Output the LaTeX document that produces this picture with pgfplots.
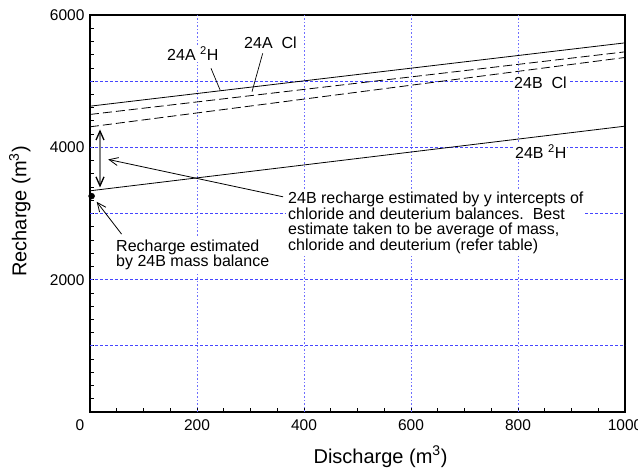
\documentclass[border=0pt]{standalone}
\usepackage{fontspec}
\setmainfont{Liberation Sans}
\usepackage{pgfplots}
\pgfplotsset{compat=1.18}
\usetikzlibrary{arrows.meta}
\definecolor{gridblue}{RGB}{70,70,255}
\definecolor{gridblueV}{RGB}{110,110,255}
\newcommand{\annfont}{\fontsize{16bp}{15.7bp}\selectfont}
\tikzset{hgrid/.style={color=gridblue, line width=1.1bp, dash pattern=on 3bp off 2bp},
         vgrid/.style={color=gridblueV, line width=1bp, dash pattern=on 1.6bp off 2bp}}
\begin{document}
\begin{tikzpicture}
\begin{axis}[
  at={(0,0)}, anchor=south west,
  scale only axis, width=535bp, height=397bp,
  xmin=0, xmax=1000, ymin=0, ymax=6000,
  clip=false,
  axis line style={line width=1.2bp},
  tick align=inside, tick pos=left,
  major tick length=4bp, minor tick length=4bp,
  tick style={line width=0.8bp, black},
  xtick={0,200,400,600,800,1000},
  xticklabels={{\makebox[0pt]{\hspace*{-20bp}0}},200,400,600,800,1000},
  minor x tick num=3,
  ytick={0,2000,4000,6000},
  yticklabels={,2000,4000,6000},
  minor y tick num=9,
  xticklabel style={font=\fontsize{15.5bp}{18bp}\selectfont, yshift=-4bp},
  yticklabel style={font=\fontsize{15.5bp}{18bp}\selectfont, xshift=-2bp},
  xlabel={Discharge (m\textsuperscript{3})},
  xlabel style={at={(axis description cs:0.543,0)}, anchor=base, yshift=-51bp, font=\fontsize{20bp}{24bp}\selectfont},
  ylabel={Recharge (m\textsuperscript{3})},
  ylabel style={at={(axis description cs:-0.1187,0.505)}, anchor=base, font=\fontsize{20bp}{24bp}\selectfont},
]
% grid lines
\addplot[hgrid] coordinates {(0,1000) (1000,1000)};
\addplot[hgrid] coordinates {(0,2000) (1000,2000)};
\addplot[hgrid] coordinates {(0,3000) (1000,3000)};
\addplot[hgrid] coordinates {(0,4000) (1000,4000)};
\addplot[hgrid] coordinates {(0,5000) (1000,5000)};
\addplot[vgrid] coordinates {(200,0) (200,6000)};
\addplot[vgrid] coordinates {(400,0) (400,6000)};
\addplot[vgrid] coordinates {(600,0) (600,6000)};
\addplot[vgrid] coordinates {(800,0) (800,6000)};
% 24A 2H (solid)
\addplot[black, line width=0.8bp] coordinates {(0,4622) (1000,5579)};
% 24A Cl (dashed)
\addplot[black, line width=0.8bp, dash pattern=on 9bp off 4bp] coordinates {(0,4497) (1000,5443)};
% 24B Cl (dashed)
\addplot[black, line width=0.8bp, dash pattern=on 9bp off 4bp] coordinates {(0,4310) (1000,5358)};
% 24B 2H (solid)
\addplot[black, line width=0.8bp] coordinates {(0,3343) (1000,4320)};
% leader lines
\addplot[black, line width=0.7bp] coordinates {(226.2,5194) (243.5,4860)};
\addplot[black, line width=0.7bp] coordinates {(322.8,5421) (302.8,4841)};
% double arrow
\addplot[color={rgb,255:red,128;green,128;blue,128}, line width=2.4bp, {Straight Barb[color=black,length=9bp,width=8bp,line width=1.3bp]}-{Straight Barb[color=black,length=9bp,width=8bp,line width=1.3bp]}] coordinates {(18.7,4270) (18.7,3394)};
% annotation arrows
\addplot[black, line width=0.8bp, -{Straight Barb[length=9bp,width=8bp]}] coordinates {(361,3252) (34,3817)};
\addplot[black, line width=0.8bp, -{Straight Barb[length=9bp,width=8bp]}] coordinates {(59,2689) (12.5,3177)};
% mass balance point
\addplot[only marks, mark=*, mark size=3bp, black] coordinates {(3,3263)};
% labels
\node[anchor=base west, inner sep=1bp, fill=white, font=\annfont] at (axis cs:142.1,5309) {24A \textsuperscript{2}H};
\node[anchor=base west, inner sep=1bp, fill=white, font=\annfont] at (axis cs:286.0,5497) {24A\ \ Cl};
\node[anchor=base west, inner sep=1bp, fill=white, font=\annfont] at (axis cs:790.7,4892) {24B\ \ Cl};
\node[anchor=base west, inner sep=1bp, fill=white, font=\annfont] at (axis cs:792.5,3834) {24B \textsuperscript{2}H};
\node[anchor=north west, inner sep=2bp, fill=white, align=left, font=\annfont] at (axis cs:44.9,2640) {Recharge estimated\\by 24B mass balance};
\node[anchor=north west, inner sep=2bp, fill=white, align=left, font=\annfont] at (axis cs:366.4,3360) {24B recharge estimated by y intercepts of\\chloride and deuterium balances.\ \ Best\\estimate taken to be average of mass,\\chloride and deuterium (refer table)};
\end{axis}
\pgfresetboundingbox
\useasboundingbox (-90bp,-60bp) rectangle (548bp,412bp);
\end{tikzpicture}
\end{document}
